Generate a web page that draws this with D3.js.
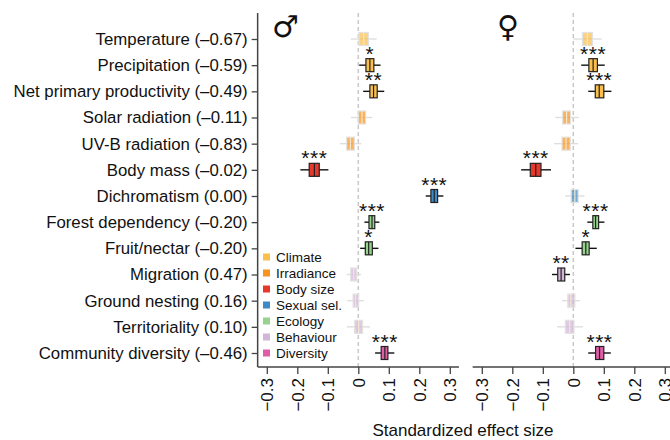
<!DOCTYPE html>
<html>
<head>
<meta charset="utf-8">
<script src="https://cdn.jsdelivr.net/npm/d3@7"></script>
<style>
  body { margin: 0; background: #fff; }
  svg text { font-family: "Liberation Sans", Arial, Helvetica, sans-serif; fill: #111; }
</style>
</head>
<body>
<div id="chart"></div>
<script>
// predictors (top to bottom) and their correlation in brackets
const labels = ["Temperature (–0.67)", "Precipitation (–0.59)", "Net primary productivity (–0.49)",
  "Solar radiation (–0.11)", "UV-B radiation (–0.83)", "Body mass (–0.02)", "Dichromatism (0.00)",
  "Forest dependency (–0.20)", "Fruit/nectar (–0.20)", "Migration (0.47)", "Ground nesting (0.16)",
  "Territoriality (0.10)", "Community diversity (–0.46)"];
const groupOf = ["Climate", "Climate", "Climate", "Irradiance", "Irradiance", "Body size", "Sexual sel.",
  "Ecology", "Ecology", "Behaviour", "Behaviour", "Behaviour", "Diversity"];

const legendGroups = ["Climate", "Irradiance", "Body size", "Sexual sel.", "Ecology", "Behaviour", "Diversity"];
const legendColours = ["#fbbf4c", "#f7931e", "#e8382b", "#3d8ac4", "#96d48e", "#d2b6d8", "#e05ea8"];

// males
const maleMed = [0.018, 0.038, 0.050, 0.012, -0.026, -0.144, 0.249, 0.045, 0.034, -0.015, -0.009, 0.001, 0.087];
const maleQ1  = [0.002, 0.025, 0.038, 0.000, -0.038, -0.161, 0.238, 0.035, 0.023, -0.025, -0.017, -0.012, 0.075];
const maleQ3  = [0.033, 0.051, 0.062, 0.024, -0.013, -0.128, 0.260, 0.054, 0.046, -0.005, 0.001, 0.014, 0.097];
const maleLo  = [-0.025, 0.003, 0.016, -0.024, -0.060, -0.190, 0.221, 0.020, 0.006, -0.038, -0.036, -0.038, 0.055];
const maleHi  = [0.060, 0.073, 0.085, 0.046, 0.010, -0.098, 0.279, 0.069, 0.066, 0.009, 0.018, 0.038, 0.118];
const maleSig = ["", "*", "**", "", "", "***", "***", "***", "*", "", "", "", "***"];

// females
const femaleMed = [0.046, 0.065, 0.085, -0.022, -0.024, -0.123, 0.005, 0.073, 0.041, -0.040, -0.008, -0.012, 0.086];
const femaleQ1  = [0.030, 0.051, 0.072, -0.035, -0.037, -0.141, -0.007, 0.064, 0.029, -0.051, -0.018, -0.026, 0.073];
const femaleQ3  = [0.063, 0.079, 0.100, -0.009, -0.010, -0.106, 0.016, 0.083, 0.052, -0.028, 0.005, 0.002, 0.100];
const femaleLo  = [0.000, 0.026, 0.049, -0.059, -0.063, -0.171, -0.027, 0.046, 0.007, -0.070, -0.037, -0.053, 0.049];
const femaleHi  = [0.093, 0.103, 0.125, 0.018, 0.016, -0.073, 0.037, 0.102, 0.077, -0.011, 0.022, 0.031, 0.123];
const femaleSig = ["", "***", "***", "", "", "***", "", "***", "*", "**", "", "", "***"];

const xTicks = [-0.3, -0.2, -0.1, 0, 0.1, 0.2, 0.3];

const width = 670, height = 440;
const svg = d3.select("#chart").append("svg")
    .attr("width", width)
    .attr("height", height);

const colour = d3.scaleOrdinal().domain(legendGroups).range(legendColours);

const y = d3.scalePoint()
    .domain(labels)
    .range([39, 353]);

const axisY = 367;
const plotTop = 13;
const pxPerUnit = 305;

const panels = [
  { zero: 358.3, med: maleMed, q1: maleQ1, q3: maleQ3, lo: maleLo, hi: maleHi, sig: maleSig, sym: "♂", symX: 272, yAxis: true },
  { zero: 573.3, med: femaleMed, q1: femaleQ1, q3: femaleQ3, lo: femaleLo, hi: femaleHi, sig: femaleSig, sym: "♀", symX: 497, yAxis: false }
];

panels.forEach(p => {
  const x = d3.scaleLinear()
      .domain([-0.33, 0.33])
      .range([p.zero - 0.33 * pxPerUnit, p.zero + 0.33 * pxPerUnit]);

  const g = svg.append("g");

  // zero line
  g.append("line")
      .attr("x1", x(0)).attr("x2", x(0))
      .attr("y1", plotTop).attr("y2", axisY)
      .attr("stroke", "#c8c8c8")
      .attr("stroke-width", 1.5)
      .attr("stroke-dasharray", "4,3");

  // x axis
  const xAxis = g.append("g")
      .attr("transform", `translate(0,${axisY})`)
      .call(d3.axisBottom(x).tickValues(xTicks).tickSize(7)
            .tickFormat(d => d === 0 ? "0" : d3.format(".1f")(d).replace("-", "−")));
  xAxis.select(".domain")
      .attr("d", `M${x.range()[0]},0H${Math.min(x.range()[1], width)}`)
      .attr("stroke", "#444")
      .attr("stroke-width", 1.5);
  xAxis.selectAll(".tick line").attr("stroke", "#444").attr("stroke-width", 1.3);
  xAxis.selectAll(".tick text")
      .attr("transform", "rotate(-90)")
      .attr("text-anchor", "end")
      .attr("x", -11)
      .attr("y", 0)
      .attr("dy", "0.35em")
      .attr("font-size", 17)
      .attr("font-family", "'Liberation Sans', Arial, sans-serif")
      .attr("fill", "#111");

  if (p.yAxis) {
    const yAx = g.append("g")
        .attr("transform", `translate(${x.range()[0]},0)`)
        .call(d3.axisLeft(y).tickSize(6).tickPadding(4));
    yAx.select(".domain")
        .attr("d", `M0,${plotTop}V${axisY}`)
        .attr("stroke", "#444")
        .attr("stroke-width", 1.5);
    yAx.selectAll(".tick line").attr("stroke", "#444").attr("stroke-width", 1.3);
    yAx.selectAll(".tick text")
        .attr("font-size", 16.8)
        .attr("font-family", "'Liberation Sans', Arial, sans-serif")
        .attr("fill", "#111");
  }

  // sex symbol
  g.append("text")
      .attr("x", p.symX)
      .attr("y", 37)
      .attr("font-size", 30)
      .style("font-family", "'DejaVu Sans', sans-serif")
      .text(p.sym);

  const rows = labels.map((lab, i) => ({
    lab, group: groupOf[i], med: p.med[i], q1: p.q1[i], q3: p.q3[i],
    lo: p.lo[i], hi: p.hi[i], sig: p.sig[i]
  }));

  const row = g.selectAll("g.row")
      .data(rows)
      .join("g")
      .attr("class", "row")
      .attr("transform", d => `translate(0,${y(d.lab)})`);

  const faded = d => d.sig === "";

  row.append("line")
      .attr("x1", d => x(d.lo)).attr("x2", d => x(d.hi))
      .attr("stroke", d => faded(d) ? "#dedede" : "#111")
      .attr("stroke-width", 1.4);

  row.append("rect")
      .attr("x", d => x(d.q1))
      .attr("width", d => x(d.q3) - x(d.q1))
      .attr("y", -6.5)
      .attr("height", 13)
      .attr("fill", d => colour(d.group))
      .attr("fill-opacity", d => faded(d) ? 0.7 : 1)
      .attr("stroke", d => faded(d) ? "#e2e2e2" : "#222")
      .attr("stroke-width", 1.2);

  row.append("line")
      .attr("x1", d => x(d.med)).attr("x2", d => x(d.med))
      .attr("y1", -6.5).attr("y2", 6.5)
      .attr("stroke", d => faded(d) ? "#f3e6cf" : "#222")
      .attr("stroke-width", 1.2);

  row.filter(d => d.sig !== "")
    .append("text")
      .attr("x", d => x(d.med))
      .attr("y", -4.5)
      .attr("text-anchor", "middle")
      .attr("font-size", 21)
      .attr("letter-spacing", 0.5)
      .text(d => d.sig);
});

// legend
const legend = svg.append("g")
    .attr("transform", "translate(263,257)");
const li = legend.selectAll("g")
    .data(legendGroups)
    .join("g")
    .attr("transform", (d, i) => `translate(0,${i * 16})`);
li.append("rect")
    .attr("x", 0).attr("y", -3.5)
    .attr("width", 7).attr("height", 7)
    .attr("fill", d => colour(d));
li.append("text")
    .attr("x", 13)
    .attr("dy", "0.35em")
    .attr("font-size", 13.5)
    .text(d => d);

// x title
svg.append("text")
    .attr("x", 463)
    .attr("y", 436)
    .attr("text-anchor", "middle")
    .attr("font-size", 17)
    .text("Standardized effect size");
</script>
</body>
</html>
